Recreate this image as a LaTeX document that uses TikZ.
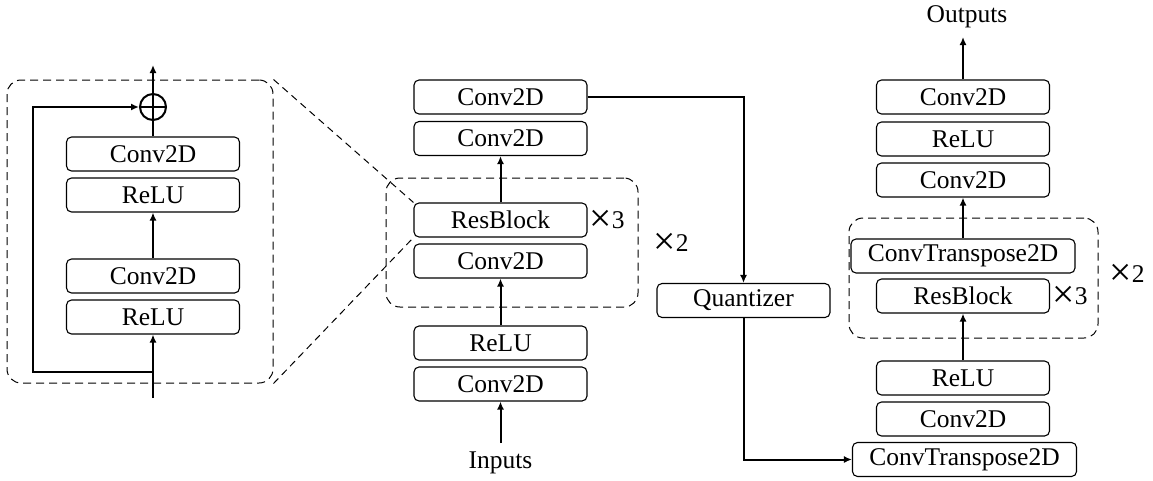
\documentclass[tikz,border=0pt]{standalone}
\usepackage{fontspec}
\setmainfont{Liberation Serif}
\usetikzlibrary{arrows.meta}
\newcommand{\bigx}{\raisebox{-0.14em}{\scalebox{1.55}{×}}}

\begin{document}
\begin{tikzpicture}[x=1pt,y=-1pt,
	blk/.style={draw,line width=1.1pt,rounded corners=5pt,minimum width=173pt,minimum height=34pt,inner sep=0pt,font=\fontsize{25.5}{30}\selectfont},
	wideblk/.style={blk,minimum width=224pt},
	groupbox/.style={draw,line width=1pt,rounded corners=14pt,dash pattern=on 8pt off 5pt,inner sep=0pt},
	zoomline/.style={line width=1pt,dash pattern=on 7pt off 5pt},
	flow/.style={line width=2pt,-{Latex[length=8pt,width=7pt]}},
	wire/.style={line width=2pt},
	txt/.style={inner sep=0pt,font=\fontsize{25.5}{30}\selectfont}]
	\useasboundingbox (0,0) rectangle (1153,480);
	\node[groupbox,minimum width=266pt,minimum height=303pt] (zoom) at (140,231.5) {};
	\node[groupbox,minimum width=252pt,minimum height=129pt] (mgroup) at (512,242.5) {};
	\node[groupbox,minimum width=249pt,minimum height=120pt] (dgroup) at (973.5,278) {};
	\node[blk] (rc1) at (153,154) {Conv2D};
	\node[blk] (rr1) at (153,195) {ReLU};
	\node[blk] (rc2) at (153,276) {Conv2D};
	\node[blk] (rr2) at (153,317) {ReLU};
	\node[draw,circle,line width=2pt,minimum size=26pt,inner sep=0pt] (add) at (153,107) {};
	\draw[line width=1.6pt] (add.north) -- (add.south) (add.west) -- (add.east);
	\coordinate (rin) at (153,398);
	\coordinate (split) at (153,372);
	\coordinate (skip) at (33,372);
	\coordinate (rout) at (153,65);
	\draw[flow] (rin) -- (rr2);
	\draw[flow] (rc2) -- (rr1);
	\draw[wire] (rc1) -- (add);
	\draw[flow] (add) -- (rout);
	\draw[flow] (split) -- (skip) |- (add);
	\node[blk] (mc3) at (500.5,97) {Conv2D};
	\node[blk] (mc2) at (500.5,138.5) {Conv2D};
	\node[blk] (mres) at (500.5,220) {ResBlock};
	\node[blk] (mc1) at (500.5,261) {Conv2D};
	\node[blk] (mrelu) at (500.5,343) {ReLU};
	\node[blk] (mc0) at (500.5,384) {Conv2D};
	\node[txt] (inputs) at (500.5,463) {Inputs};
	\coordinate (min) at (500.5,443);
	\node[txt] (mx3) at (607,221) {\bigx3};
	\node[txt] (mx2) at (671,244) {\bigx2};
	\draw[flow] (min) -- (mc0);
	\draw[flow] (mrelu) -- (mc1);
	\draw[flow] (mres) -- (mc2);
	\draw[zoomline] (zoom.north east) -- (mres.north west);
	\draw[zoomline] (zoom.south east) -- (mres.south west);
	\node[blk] (quant) at (743.5,300.5) {Quantizer};
	\draw[flow] (mc3.east) -| (quant.north);
	\node[wideblk] (dct0) at (964.5,459.5) {ConvTranspose2D};
	\node[blk] (dc0) at (963,419) {Conv2D};
	\node[blk] (drelu0) at (963,378) {ReLU};
	\node[blk] (dres) at (963,296) {ResBlock};
	\node[wideblk] (dct1) at (963,256) {ConvTranspose2D};
	\node[blk] (dc1) at (963,180) {Conv2D};
	\node[blk] (drelu1) at (963,139) {ReLU};
	\node[blk] (dc2) at (963,97) {Conv2D};
	\node[txt] (outputs) at (967,17) {Outputs};
	\coordinate (dout) at (963,37);
	\node[txt] (dx3) at (1070,297) {\bigx3};
	\node[txt] (dx2) at (1127,275) {\bigx2};
	\draw[flow] (quant.south) |- (dct0.west);
	\draw[flow] (drelu0) -- (dres);
	\draw[flow] (dct1) -- (dc1);
	\draw[flow] (dc2) -- (dout);
\end{tikzpicture}
\end{document}
